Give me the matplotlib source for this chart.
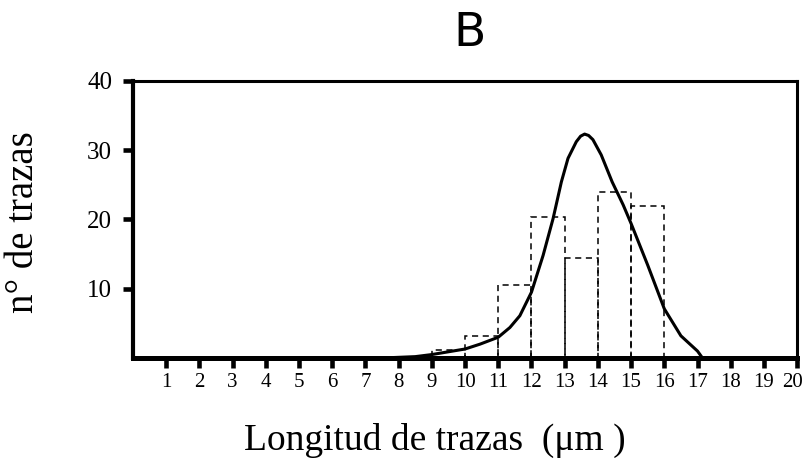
import matplotlib
matplotlib.use("Agg")
import matplotlib.pyplot as plt
from matplotlib.transforms import ScaledTranslation

# histogram of measured track lengths (bins 9-10 ... 15-16)
bin_left = [9, 10, 11, 12, 13, 14, 15]
bin_counts = [1.1, 3.2, 10.5, 20.3, 14.4, 24.0, 21.9]

# fitted curve
curve_x = [7.5, 8.5, 9, 10, 10.45, 11, 11.35, 11.65, 12, 12.35, 12.65, 12.9, 13.1,
           13.35, 13.48, 13.6, 13.72, 13.85, 14.1, 14.43, 14.76, 15, 15.5, 16, 16.5,
           17, 17.15, 20]
curve_y = [0, 0.2, 0.5, 1.3, 2.0, 3.0, 4.4, 6.1, 9.5, 14.8, 20.1, 25.4, 28.8,
           31.2, 32.0, 32.3, 32.1, 31.5, 29.3, 25.4, 22.1, 19.4, 13.4, 7.1, 3.2,
           1.0, 0, 0]

x_ticks = list(range(1, 21))
y_ticks = [10, 20, 30, 40]

serif = "Liberation Serif"

fig = plt.figure(figsize=(8.06, 4.58), dpi=100)
ax = fig.add_axes([0.165, 0.2183, 0.824, 0.6055])

ax.bar(bin_left, bin_counts, width=1, align="edge", fill=False,
       edgecolor="black", linewidth=1.1, linestyle=(0, (4, 3)))
ax.plot(curve_x, curve_y, color="black", linewidth=2.2, solid_joinstyle="round")

ax.set_xlim(0, 20)
ax.set_ylim(0, 40)
ax.set_xticks(x_ticks)
ax.set_xticklabels([str(t) for t in x_ticks], family=serif, fontsize=15)
ax.set_yticks(y_ticks)
ax.set_yticklabels([str(t) for t in y_ticks], family=serif, fontsize=18)

ax.tick_params(axis="x", direction="out", length=7, width=3.3, pad=4)
ax.tick_params(axis="y", direction="out", length=7, width=3.3, pad=8)

# last label sits a little left of its tick so it stays inside the figure
last = ax.get_xticklabels()[-1]
last.set_transform(last.get_transform() + ScaledTranslation(-5 / 100, 0, fig.dpi_scale_trans))

ax.spines["bottom"].set_linewidth(3.6)
ax.spines["left"].set_linewidth(3.0)
ax.spines["top"].set_linewidth(2.2)
ax.spines["right"].set_linewidth(2.2)

fig.text(470 / 806, 1 - 34 / 458, "B", ha="center", va="center",
         fontsize=34, family="DejaVu Sans")
fig.text(435 / 806, 1 - 450 / 458, "Longitud de trazas  (\u03bcm )", ha="center",
         va="baseline", fontsize=27, family=serif)
fig.text(24 / 806, 1 - 222 / 458, "n\u00b0 de trazas", ha="center", va="center",
         rotation=90, fontsize=28, family=serif)

fig.savefig("out.png", dpi=100)
